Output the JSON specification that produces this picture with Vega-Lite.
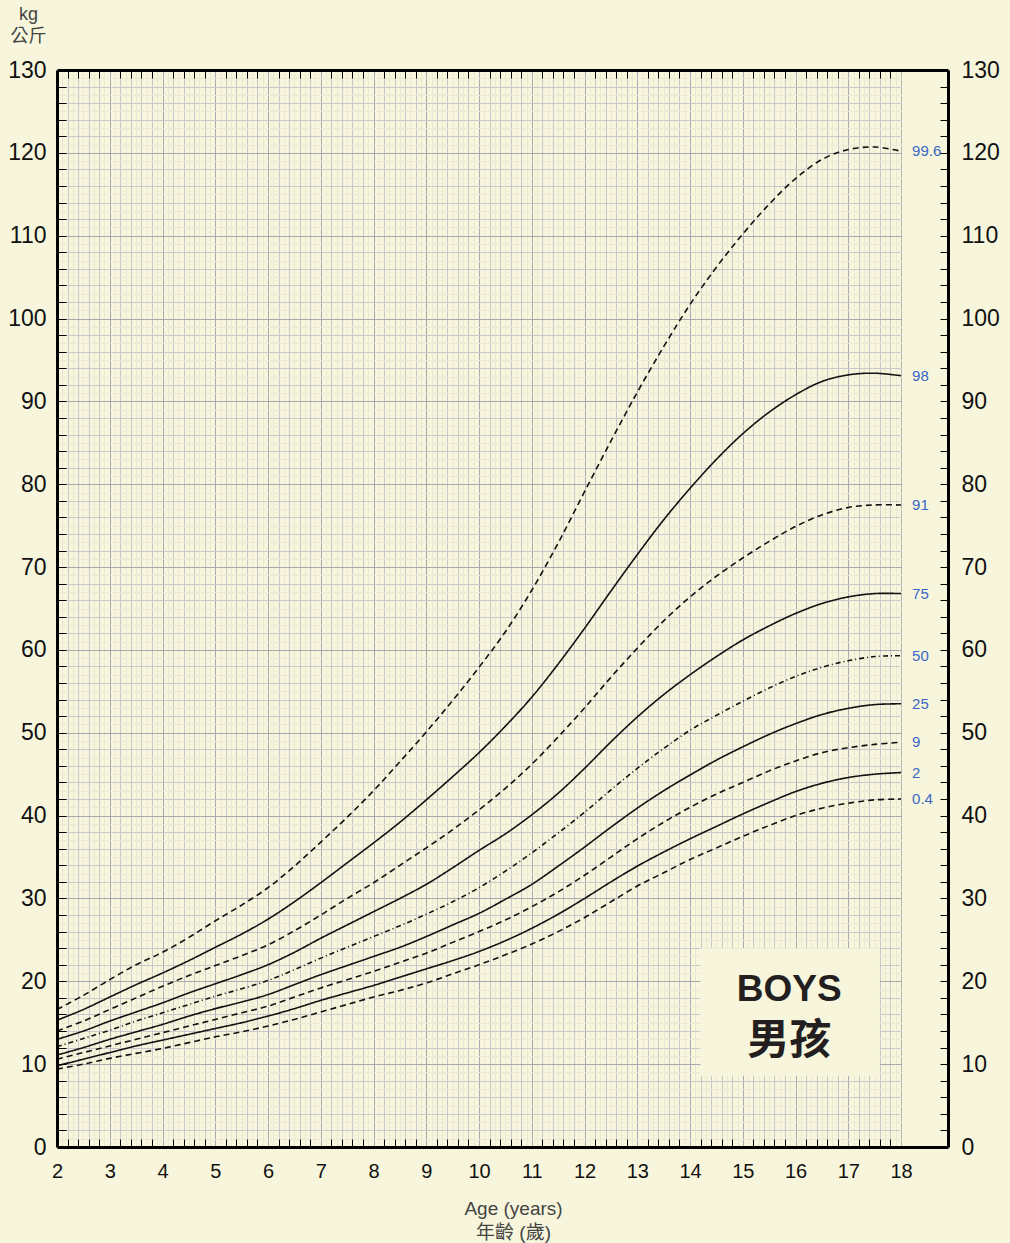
{
  "$schema": "https://vega.github.io/schema/vega-lite/v6.json",
  "width": 891,
  "height": 1077,
  "autosize": {"type": "none"},
  "padding": {"left": 57, "top": 70, "right": 62, "bottom": 96},
  "background": "#f7f6dc",
  "view": {"stroke": null},
  "datasets": {
    "curves": [
      {"p":"99.6","age":2,"kg":16.6},{"p":"99.6","age":2.5,"kg":18.3},{"p":"99.6","age":3,"kg":20.2},{"p":"99.6","age":3.5,"kg":22.0},{"p":"99.6","age":4,"kg":23.5},{"p":"99.6","age":4.5,"kg":25.3},{"p":"99.6","age":5,"kg":27.3},{"p":"99.6","age":5.5,"kg":29.2},{"p":"99.6","age":6,"kg":31.3},{"p":"99.6","age":6.5,"kg":33.9},{"p":"99.6","age":7,"kg":36.8},{"p":"99.6","age":7.5,"kg":39.8},{"p":"99.6","age":8,"kg":43.0},{"p":"99.6","age":8.5,"kg":46.5},{"p":"99.6","age":9,"kg":50.1},{"p":"99.6","age":9.5,"kg":53.9},{"p":"99.6","age":10,"kg":57.9},{"p":"99.6","age":10.5,"kg":62.2},{"p":"99.6","age":11,"kg":67.2},{"p":"99.6","age":11.5,"kg":72.9},{"p":"99.6","age":12,"kg":79.1},{"p":"99.6","age":12.5,"kg":85.2},{"p":"99.6","age":13,"kg":91.1},{"p":"99.6","age":13.5,"kg":96.6},{"p":"99.6","age":14,"kg":101.7},{"p":"99.6","age":14.5,"kg":106.2},{"p":"99.6","age":15,"kg":110.2},{"p":"99.6","age":15.5,"kg":113.8},{"p":"99.6","age":16,"kg":116.9},{"p":"99.6","age":16.5,"kg":119.2},{"p":"99.6","age":17,"kg":120.4},{"p":"99.6","age":17.5,"kg":120.7},{"p":"99.6","age":18,"kg":120.2},
      {"p":"98","age":2,"kg":15.3},{"p":"98","age":2.5,"kg":16.6},{"p":"98","age":3,"kg":18.1},{"p":"98","age":3.5,"kg":19.6},{"p":"98","age":4,"kg":21.0},{"p":"98","age":4.5,"kg":22.5},{"p":"98","age":5,"kg":24.1},{"p":"98","age":5.5,"kg":25.7},{"p":"98","age":6,"kg":27.5},{"p":"98","age":6.5,"kg":29.6},{"p":"98","age":7,"kg":31.9},{"p":"98","age":7.5,"kg":34.3},{"p":"98","age":8,"kg":36.7},{"p":"98","age":8.5,"kg":39.2},{"p":"98","age":9,"kg":41.9},{"p":"98","age":9.5,"kg":44.7},{"p":"98","age":10,"kg":47.6},{"p":"98","age":10.5,"kg":50.8},{"p":"98","age":11,"kg":54.3},{"p":"98","age":11.5,"kg":58.3},{"p":"98","age":12,"kg":62.6},{"p":"98","age":12.5,"kg":67.1},{"p":"98","age":13,"kg":71.5},{"p":"98","age":13.5,"kg":75.7},{"p":"98","age":14,"kg":79.5},{"p":"98","age":14.5,"kg":83.0},{"p":"98","age":15,"kg":86.1},{"p":"98","age":15.5,"kg":88.7},{"p":"98","age":16,"kg":90.8},{"p":"98","age":16.5,"kg":92.4},{"p":"98","age":17,"kg":93.2},{"p":"98","age":17.5,"kg":93.4},{"p":"98","age":18,"kg":93.1},
      {"p":"91","age":2,"kg":14.0},{"p":"91","age":2.5,"kg":15.2},{"p":"91","age":3,"kg":16.6},{"p":"91","age":3.5,"kg":18.0},{"p":"91","age":4,"kg":19.4},{"p":"91","age":4.5,"kg":20.7},{"p":"91","age":5,"kg":21.9},{"p":"91","age":5.5,"kg":23.1},{"p":"91","age":6,"kg":24.4},{"p":"91","age":6.5,"kg":26.1},{"p":"91","age":7,"kg":28.0},{"p":"91","age":7.5,"kg":30.0},{"p":"91","age":8,"kg":31.9},{"p":"91","age":8.5,"kg":34.0},{"p":"91","age":9,"kg":36.1},{"p":"91","age":9.5,"kg":38.3},{"p":"91","age":10,"kg":40.7},{"p":"91","age":10.5,"kg":43.3},{"p":"91","age":11,"kg":46.2},{"p":"91","age":11.5,"kg":49.5},{"p":"91","age":12,"kg":53.0},{"p":"91","age":12.5,"kg":56.7},{"p":"91","age":13,"kg":60.2},{"p":"91","age":13.5,"kg":63.5},{"p":"91","age":14,"kg":66.4},{"p":"91","age":14.5,"kg":68.9},{"p":"91","age":15,"kg":71.1},{"p":"91","age":15.5,"kg":73.1},{"p":"91","age":16,"kg":74.9},{"p":"91","age":16.5,"kg":76.3},{"p":"91","age":17,"kg":77.2},{"p":"91","age":17.5,"kg":77.5},{"p":"91","age":18,"kg":77.5},
      {"p":"75","age":2,"kg":13.0},{"p":"75","age":2.5,"kg":14.0},{"p":"75","age":3,"kg":15.2},{"p":"75","age":3.5,"kg":16.3},{"p":"75","age":4,"kg":17.4},{"p":"75","age":4.5,"kg":18.6},{"p":"75","age":5,"kg":19.7},{"p":"75","age":5.5,"kg":20.8},{"p":"75","age":6,"kg":22.0},{"p":"75","age":6.5,"kg":23.5},{"p":"75","age":7,"kg":25.2},{"p":"75","age":7.5,"kg":26.8},{"p":"75","age":8,"kg":28.4},{"p":"75","age":8.5,"kg":30.0},{"p":"75","age":9,"kg":31.7},{"p":"75","age":9.5,"kg":33.7},{"p":"75","age":10,"kg":35.8},{"p":"75","age":10.5,"kg":37.8},{"p":"75","age":11,"kg":40.1},{"p":"75","age":11.5,"kg":42.7},{"p":"75","age":12,"kg":45.7},{"p":"75","age":12.5,"kg":48.9},{"p":"75","age":13,"kg":51.9},{"p":"75","age":13.5,"kg":54.6},{"p":"75","age":14,"kg":57.0},{"p":"75","age":14.5,"kg":59.2},{"p":"75","age":15,"kg":61.2},{"p":"75","age":15.5,"kg":62.9},{"p":"75","age":16,"kg":64.4},{"p":"75","age":16.5,"kg":65.6},{"p":"75","age":17,"kg":66.4},{"p":"75","age":17.5,"kg":66.8},{"p":"75","age":18,"kg":66.8},
      {"p":"50","age":2,"kg":12.1},{"p":"50","age":2.5,"kg":13.1},{"p":"50","age":3,"kg":14.1},{"p":"50","age":3.5,"kg":15.2},{"p":"50","age":4,"kg":16.2},{"p":"50","age":4.5,"kg":17.2},{"p":"50","age":5,"kg":18.2},{"p":"50","age":5.5,"kg":19.1},{"p":"50","age":6,"kg":20.1},{"p":"50","age":6.5,"kg":21.4},{"p":"50","age":7,"kg":22.8},{"p":"50","age":7.5,"kg":24.1},{"p":"50","age":8,"kg":25.4},{"p":"50","age":8.5,"kg":26.7},{"p":"50","age":9,"kg":28.1},{"p":"50","age":9.5,"kg":29.6},{"p":"50","age":10,"kg":31.3},{"p":"50","age":10.5,"kg":33.3},{"p":"50","age":11,"kg":35.5},{"p":"50","age":11.5,"kg":37.9},{"p":"50","age":12,"kg":40.4},{"p":"50","age":12.5,"kg":43.1},{"p":"50","age":13,"kg":45.7},{"p":"50","age":13.5,"kg":48.1},{"p":"50","age":14,"kg":50.3},{"p":"50","age":14.5,"kg":52.1},{"p":"50","age":15,"kg":53.8},{"p":"50","age":15.5,"kg":55.4},{"p":"50","age":16,"kg":56.8},{"p":"50","age":16.5,"kg":57.9},{"p":"50","age":17,"kg":58.7},{"p":"50","age":17.5,"kg":59.2},{"p":"50","age":18,"kg":59.3},
      {"p":"25","age":2,"kg":11.1},{"p":"25","age":2.5,"kg":12.0},{"p":"25","age":3,"kg":13.0},{"p":"25","age":3.5,"kg":13.9},{"p":"25","age":4,"kg":14.8},{"p":"25","age":4.5,"kg":15.8},{"p":"25","age":5,"kg":16.7},{"p":"25","age":5.5,"kg":17.5},{"p":"25","age":6,"kg":18.4},{"p":"25","age":6.5,"kg":19.6},{"p":"25","age":7,"kg":20.8},{"p":"25","age":7.5,"kg":21.9},{"p":"25","age":8,"kg":23.0},{"p":"25","age":8.5,"kg":24.1},{"p":"25","age":9,"kg":25.4},{"p":"25","age":9.5,"kg":26.8},{"p":"25","age":10,"kg":28.2},{"p":"25","age":10.5,"kg":29.9},{"p":"25","age":11,"kg":31.7},{"p":"25","age":11.5,"kg":33.9},{"p":"25","age":12,"kg":36.2},{"p":"25","age":12.5,"kg":38.6},{"p":"25","age":13,"kg":40.9},{"p":"25","age":13.5,"kg":43.0},{"p":"25","age":14,"kg":44.9},{"p":"25","age":14.5,"kg":46.7},{"p":"25","age":15,"kg":48.3},{"p":"25","age":15.5,"kg":49.8},{"p":"25","age":16,"kg":51.1},{"p":"25","age":16.5,"kg":52.2},{"p":"25","age":17,"kg":52.95},{"p":"25","age":17.5,"kg":53.4},{"p":"25","age":18,"kg":53.5},
      {"p":"9","age":2,"kg":10.6},{"p":"9","age":2.5,"kg":11.4},{"p":"9","age":3,"kg":12.2},{"p":"9","age":3.5,"kg":13.0},{"p":"9","age":4,"kg":13.8},{"p":"9","age":4.5,"kg":14.6},{"p":"9","age":5,"kg":15.4},{"p":"9","age":5.5,"kg":16.2},{"p":"9","age":6,"kg":17.0},{"p":"9","age":6.5,"kg":18.1},{"p":"9","age":7,"kg":19.2},{"p":"9","age":7.5,"kg":20.2},{"p":"9","age":8,"kg":21.2},{"p":"9","age":8.5,"kg":22.3},{"p":"9","age":9,"kg":23.4},{"p":"9","age":9.5,"kg":24.7},{"p":"9","age":10,"kg":26.0},{"p":"9","age":10.5,"kg":27.4},{"p":"9","age":11,"kg":29.0},{"p":"9","age":11.5,"kg":30.8},{"p":"9","age":12,"kg":32.8},{"p":"9","age":12.5,"kg":35.0},{"p":"9","age":13,"kg":37.2},{"p":"9","age":13.5,"kg":39.2},{"p":"9","age":14,"kg":41.0},{"p":"9","age":14.5,"kg":42.6},{"p":"9","age":15,"kg":44.0},{"p":"9","age":15.5,"kg":45.4},{"p":"9","age":16,"kg":46.6},{"p":"9","age":16.5,"kg":47.6},{"p":"9","age":17,"kg":48.2},{"p":"9","age":17.5,"kg":48.6},{"p":"9","age":18,"kg":48.85},
      {"p":"2","age":2,"kg":9.8},{"p":"2","age":2.5,"kg":10.6},{"p":"2","age":3,"kg":11.4},{"p":"2","age":3.5,"kg":12.2},{"p":"2","age":4,"kg":12.9},{"p":"2","age":4.5,"kg":13.6},{"p":"2","age":5,"kg":14.3},{"p":"2","age":5.5,"kg":15.0},{"p":"2","age":6,"kg":15.8},{"p":"2","age":6.5,"kg":16.7},{"p":"2","age":7,"kg":17.7},{"p":"2","age":7.5,"kg":18.6},{"p":"2","age":8,"kg":19.5},{"p":"2","age":8.5,"kg":20.5},{"p":"2","age":9,"kg":21.5},{"p":"2","age":9.5,"kg":22.5},{"p":"2","age":10,"kg":23.6},{"p":"2","age":10.5,"kg":24.9},{"p":"2","age":11,"kg":26.4},{"p":"2","age":11.5,"kg":28.1},{"p":"2","age":12,"kg":30.0},{"p":"2","age":12.5,"kg":32.0},{"p":"2","age":13,"kg":33.9},{"p":"2","age":13.5,"kg":35.6},{"p":"2","age":14,"kg":37.2},{"p":"2","age":14.5,"kg":38.7},{"p":"2","age":15,"kg":40.2},{"p":"2","age":15.5,"kg":41.6},{"p":"2","age":16,"kg":42.9},{"p":"2","age":16.5,"kg":43.9},{"p":"2","age":17,"kg":44.6},{"p":"2","age":17.5,"kg":45.0},{"p":"2","age":18,"kg":45.2},
      {"p":"0.4","age":2,"kg":9.4},{"p":"0.4","age":2.5,"kg":10.0},{"p":"0.4","age":3,"kg":10.7},{"p":"0.4","age":3.5,"kg":11.3},{"p":"0.4","age":4,"kg":11.9},{"p":"0.4","age":4.5,"kg":12.6},{"p":"0.4","age":5,"kg":13.3},{"p":"0.4","age":5.5,"kg":13.9},{"p":"0.4","age":6,"kg":14.6},{"p":"0.4","age":6.5,"kg":15.4},{"p":"0.4","age":7,"kg":16.3},{"p":"0.4","age":7.5,"kg":17.2},{"p":"0.4","age":8,"kg":18.1},{"p":"0.4","age":8.5,"kg":18.9},{"p":"0.4","age":9,"kg":19.8},{"p":"0.4","age":9.5,"kg":20.9},{"p":"0.4","age":10,"kg":22.0},{"p":"0.4","age":10.5,"kg":23.2},{"p":"0.4","age":11,"kg":24.5},{"p":"0.4","age":11.5,"kg":26.0},{"p":"0.4","age":12,"kg":27.7},{"p":"0.4","age":12.5,"kg":29.6},{"p":"0.4","age":13,"kg":31.5},{"p":"0.4","age":13.5,"kg":33.1},{"p":"0.4","age":14,"kg":34.7},{"p":"0.4","age":14.5,"kg":36.1},{"p":"0.4","age":15,"kg":37.5},{"p":"0.4","age":15.5,"kg":38.8},{"p":"0.4","age":16,"kg":40.0},{"p":"0.4","age":16.5,"kg":40.9},{"p":"0.4","age":17,"kg":41.5},{"p":"0.4","age":17.5,"kg":41.9},{"p":"0.4","age":18,"kg":42.0}
    ]
  },
  "resolve": {"scale": {"x": "shared", "y": "shared"}, "axis": {"x": "independent", "y": "independent"}},
  "layer": [
    {
      "data": {"values": [{}]},
      "mark": {"type": "rect", "fill": "#f7f6dc"},
      "encoding": {
        "x": {"datum": 18.015, "type": "quantitative", "scale": {"domain": [2, 18.89], "nice": false, "zero": false},
          "axis": {"orient": "bottom", "grid": true, "domain": false, "ticks": false, "labels": false, "title": null, "zindex": 0,
            "values": [2,2.1,2.2,2.3,2.4,2.5,2.6,2.7,2.8,2.9,3,3.1,3.2,3.3,3.4,3.5,3.6,3.7,3.8,3.9,4,4.1,4.2,4.3,4.4,4.5,4.6,4.7,4.8,4.9,5,5.1,5.2,5.3,5.4,5.5,5.6,5.7,5.8,5.9,6,6.1,6.2,6.3,6.4,6.5,6.6,6.7,6.8,6.9,7,7.1,7.2,7.3,7.4,7.5,7.6,7.7,7.8,7.9,8,8.1,8.2,8.3,8.4,8.5,8.6,8.7,8.8,8.9,9,9.1,9.2,9.3,9.4,9.5,9.6,9.7,9.8,9.9,10,10.1,10.2,10.3,10.4,10.5,10.6,10.7,10.8,10.9,11,11.1,11.2,11.3,11.4,11.5,11.6,11.7,11.8,11.9,12,12.1,12.2,12.3,12.4,12.5,12.6,12.7,12.8,12.9,13,13.1,13.2,13.3,13.4,13.5,13.6,13.7,13.8,13.9,14,14.1,14.2,14.3,14.4,14.5,14.6,14.7,14.8,14.9,15,15.1,15.2,15.3,15.4,15.5,15.6,15.7,15.8,15.9,16,16.1,16.2,16.3,16.4,16.5,16.6,16.7,16.8,16.9,17,17.1,17.2,17.3,17.4,17.5,17.6,17.7,17.8,17.9,18],
            "gridWidth": 1,
            "gridColor": {"condition": [{"test": "abs(datum.value - round(datum.value)) < 0.001", "value": "#a8a8b0"}, {"test": "abs(datum.value * 5 - round(datum.value * 5)) < 0.001", "value": "#c9c9cd"}], "value": "#ebe9d4"}}},
        "x2": {"datum": 18.89},
        "y": {"datum": 0, "type": "quantitative", "scale": {"domain": [0, 130], "nice": false, "zero": false},
          "axis": {"orient": "left", "grid": true, "domain": false, "ticks": false, "labels": false, "title": null, "zindex": 0,
            "values": [0,1,2,3,4,5,6,7,8,9,10,11,12,13,14,15,16,17,18,19,20,21,22,23,24,25,26,27,28,29,30,31,32,33,34,35,36,37,38,39,40,41,42,43,44,45,46,47,48,49,50,51,52,53,54,55,56,57,58,59,60,61,62,63,64,65,66,67,68,69,70,71,72,73,74,75,76,77,78,79,80,81,82,83,84,85,86,87,88,89,90,91,92,93,94,95,96,97,98,99,100,101,102,103,104,105,106,107,108,109,110,111,112,113,114,115,116,117,118,119,120,121,122,123,124,125,126,127,128,129,130],
            "gridWidth": 1,
            "gridColor": {"condition": [{"test": "datum.value % 10 === 0", "value": "#a8a8b0"}, {"test": "datum.value % 2 === 0", "value": "#c9c9cd"}], "value": "#ebe9d4"}}},
        "y2": {"datum": 130}
      }
    },
    {
      "data": {"values": [{}]},
      "mark": {"type": "rect", "fill": "#f7f6dc"},
      "encoding": {
        "x": {"datum": 14.2, "type": "quantitative", "scale": {"domain": [2, 18.89], "nice": false, "zero": false},
          "axis": {"orient": "bottom", "offset": -8, "grid": false, "domain": false, "labels": false, "ticks": true, "tickSize": 8, "tickWidth": 1, "tickColor": "#000", "title": null, "zindex": 1,
            "values": [2.2,2.4,2.6,2.8,3.2,3.4,3.6,3.8,4.2,4.4,4.6,4.8,5.2,5.4,5.6,5.8,6.2,6.4,6.6,6.8,7.2,7.4,7.6,7.8,8.2,8.4,8.6,8.8,9.2,9.4,9.6,9.8,10.2,10.4,10.6,10.8,11.2,11.4,11.6,11.8,12.2,12.4,12.6,12.8,13.2,13.4,13.6,13.8,14.2,14.4,14.6,14.8,15.2,15.4,15.6,15.8,16.2,16.4,16.6,16.8,17.2,17.4,17.6,17.8]}},
        "x2": {"datum": 17.6},
        "y": {"datum": 8.6, "type": "quantitative", "scale": {"domain": [0, 130], "nice": false, "zero": false},
          "axis": {"orient": "left", "offset": -9, "grid": false, "domain": false, "labels": false, "ticks": true, "tickSize": 9, "tickWidth": 1, "tickColor": "#000", "title": null, "zindex": 1,
            "values": [2,4,6,8,10,12,14,16,18,20,22,24,26,28,30,32,34,36,38,40,42,44,46,48,50,52,54,56,58,60,62,64,66,68,70,72,74,76,78,80,82,84,86,88,90,92,94,96,98,100,102,104,106,108,110,112,114,116,118,120,122,124,126,128]}},
        "y2": {"datum": 24.0}
      }
    },
    {
      "data": {"name": "curves"},
      "mark": {"type": "line", "interpolate": "catmull-rom", "color": "#111", "strokeWidth": 1.6},
      "encoding": {
        "x": {"field": "age", "type": "quantitative", "scale": {"domain": [2, 18.89], "nice": false, "zero": false},
          "axis": {"orient": "top", "offset": -8, "grid": false, "domain": false, "labels": false, "ticks": true, "tickSize": 8, "tickWidth": 1, "tickColor": "#000", "title": null, "zindex": 1,
            "values": [2.2,2.4,2.6,2.8,3.2,3.4,3.6,3.8,4.2,4.4,4.6,4.8,5.2,5.4,5.6,5.8,6.2,6.4,6.6,6.8,7.2,7.4,7.6,7.8,8.2,8.4,8.6,8.8,9.2,9.4,9.6,9.8,10.2,10.4,10.6,10.8,11.2,11.4,11.6,11.8,12.2,12.4,12.6,12.8,13.2,13.4,13.6,13.8,14.2,14.4,14.6,14.8,15.2,15.4,15.6,15.8,16.2,16.4,16.6,16.8,17.2,17.4,17.6,17.8]}},
        "y": {"field": "kg", "type": "quantitative", "scale": {"domain": [0, 130], "nice": false, "zero": false},
          "axis": {"orient": "right", "offset": -8, "grid": false, "domain": false, "labels": false, "ticks": true, "tickSize": 8, "tickWidth": 1, "tickColor": "#000", "title": null, "zindex": 1,
            "values": [2,4,6,8,10,12,14,16,18,20,22,24,26,28,30,32,34,36,38,40,42,44,46,48,50,52,54,56,58,60,62,64,66,68,70,72,74,76,78,80,82,84,86,88,90,92,94,96,98,100,102,104,106,108,110,112,114,116,118,120,122,124,126,128]}},
        "strokeDash": {"field": "p", "type": "nominal", "legend": null,
          "scale": {"domain": ["0.4","2","9","25","50","75","91","98","99.6"], "range": [[6,4],[1,0],[6,4],[1,0],[5,3,1,3],[1,0],[6,4],[1,0],[6,4]]}}
      }
    },
    {
      "data": {"name": "curves"},
      "transform": [{"filter": "datum.age === 18"}],
      "mark": {"type": "text", "align": "left", "baseline": "middle", "dx": 11, "font": "Liberation Sans, Arial, sans-serif", "fontSize": 15, "color": "#3a66c6"},
      "encoding": {
        "x": {"field": "age", "type": "quantitative", "scale": {"domain": [2, 18.89], "nice": false, "zero": false},
          "axis": {"orient": "bottom", "grid": false, "domain": true, "domainColor": "#000", "domainWidth": 3, "ticks": false, "tickSize": 0, "labels": true,
            "values": [2,3,4,5,6,7,8,9,10,11,12,13,14,15,16,17,18], "labelFlush": false, "labelOverlap": false, "labelPadding": 14,
            "labelFont": "Liberation Sans, Arial, sans-serif", "labelFontSize": 20, "labelColor": "#111", "zindex": 1,
            "title": ["Age (years)", "年齡 (歲)"], "titleFont": "Liberation Sans, Noto Sans CJK TC, sans-serif", "titleFontSize": 19, "titleFontWeight": "normal", "titleColor": "#444",
            "titleX": 456, "titleY": 67, "titleAlign": "center", "titleBaseline": "alphabetic", "titleLineHeight": 24}},
        "y": {"field": "kg", "type": "quantitative", "scale": {"domain": [0, 130], "nice": false, "zero": false},
          "axis": {"orient": "left", "grid": false, "domain": true, "domainColor": "#000", "domainWidth": 3, "ticks": false, "tickSize": 0, "labels": true,
            "values": [0,10,20,30,40,50,60,70,80,90,100,110,120,130], "labelFlush": false, "labelOverlap": false, "labelPadding": 11,
            "labelFont": "Liberation Sans, Arial, sans-serif", "labelFontSize": 23, "labelColor": "#111", "zindex": 1,
            "title": ["kg", "公斤"], "titleFont": "Liberation Sans, Noto Sans CJK TC, sans-serif", "titleFontSize": 18, "titleFontWeight": "normal", "titleColor": "#444",
            "titleAngle": 0, "titleX": -29, "titleY": -51, "titleAlign": "center", "titleBaseline": "alphabetic", "titleLineHeight": 22}},
        "text": {"field": "p", "type": "nominal"}
      }
    },
    {
      "data": {"values": [{}]},
      "mark": {"type": "text", "text": "BOYS", "align": "center", "baseline": "middle", "font": "Liberation Sans, Arial, sans-serif", "fontSize": 37, "fontWeight": "bold", "color": "#231f20"},
      "encoding": {
        "x": {"datum": 15.88, "type": "quantitative", "scale": {"domain": [2, 18.89], "nice": false, "zero": false},
          "axis": {"orient": "top", "grid": false, "domain": true, "domainColor": "#000", "domainWidth": 3, "ticks": false, "tickSize": 0, "labels": false, "title": null, "zindex": 1}},
        "y": {"datum": 18.95, "type": "quantitative", "scale": {"domain": [0, 130], "nice": false, "zero": false},
          "axis": {"orient": "right", "grid": false, "domain": true, "domainColor": "#000", "domainWidth": 3, "ticks": false, "tickSize": 0, "labels": true,
            "values": [0,10,20,30,40,50,60,70,80,90,100,110,120,130], "labelFlush": false, "labelOverlap": false, "labelPadding": 13,
            "labelFont": "Liberation Sans, Arial, sans-serif", "labelFontSize": 23, "labelColor": "#111", "title": null, "zindex": 1}}
      }
    },
    {
      "data": {"values": [{}]},
      "mark": {"type": "text", "text": "男孩", "align": "center", "baseline": "middle", "font": "Noto Sans CJK TC, sans-serif", "fontSize": 42, "fontWeight": "bold", "color": "#231f20"},
      "encoding": {
        "x": {"datum": 15.88, "type": "quantitative", "scale": {"domain": [2, 18.89], "nice": false, "zero": false}, "axis": null},
        "y": {"datum": 12.8, "type": "quantitative", "scale": {"domain": [0, 130], "nice": false, "zero": false}, "axis": null}
      }
    }
  ]
}
